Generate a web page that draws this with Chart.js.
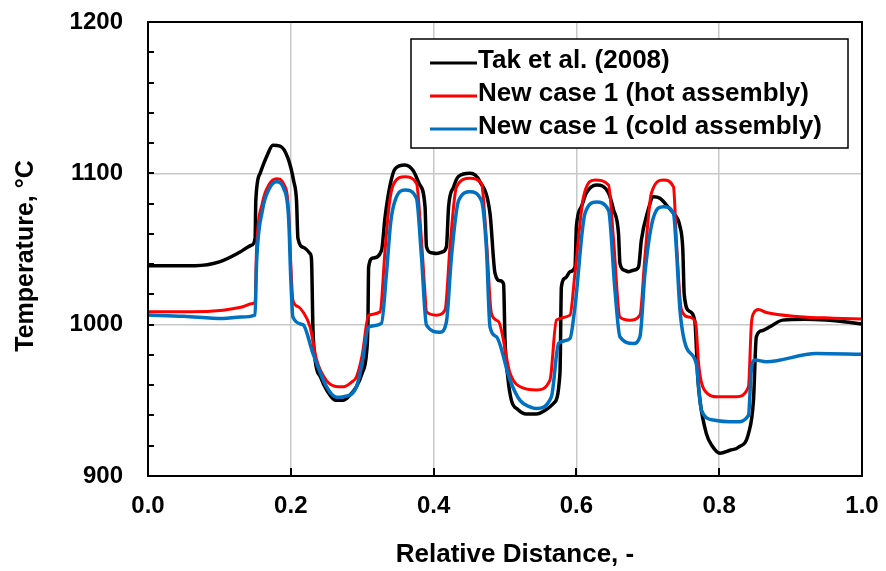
<!DOCTYPE html>
<html>
<head>
<meta charset="utf-8">
<script src="https://cdn.jsdelivr.net/npm/chart.js@4.4.1/dist/chart.umd.min.js"></script>
<style>
  html, body { margin: 0; padding: 0; background: #fff; }
  #chart { display: block; }
</style>
</head>
<body>
<canvas id="chart" width="886" height="571"></canvas>
<script>
// values
const takDist = [0, 0.066, 0.1, 0.129, 0.145, 0.150, 0.151, 0.157, 0.167, 0.175, 0.185, 0.196, 0.204, 0.208, 0.210, 0.218, 0.227, 0.229, 0.231, 0.234, 0.242, 0.250, 0.264, 0.273, 0.282, 0.292, 0.300, 0.306, 0.308, 0.309, 0.315, 0.327, 0.332, 0.339, 0.346, 0.360, 0.371, 0.380, 0.388, 0.390, 0.397, 0.404, 0.412, 0.418, 0.421, 0.428, 0.435, 0.451, 0.465, 0.479, 0.486, 0.493, 0.498, 0.500, 0.504, 0.509, 0.518, 0.530, 0.544, 0.558, 0.568, 0.577, 0.579, 0.585, 0.591, 0.598, 0.600, 0.607, 0.614, 0.628, 0.645, 0.652, 0.659, 0.661, 0.667, 0.673, 0.680, 0.687, 0.691, 0.700, 0.708, 0.717, 0.728, 0.736, 0.745, 0.749, 0.751, 0.758, 0.766, 0.768, 0.770, 0.773, 0.782, 0.790, 0.801, 0.815, 0.827, 0.841, 0.848, 0.852, 0.860, 0.871, 0.889, 0.920, 0.950, 0.975, 1.000];
const takTemp = [1039, 1039, 1041.5, 1048, 1052.5, 1057, 1082, 1100, 1112, 1118.5, 1118, 1110, 1095, 1082, 1057, 1051, 1047, 1043, 998, 977, 965, 957, 950, 950, 953, 959, 968, 981, 1000, 1038, 1044, 1049, 1071, 1092, 1103, 1105.5, 1102, 1093, 1078, 1051.5, 1047.5, 1047, 1048, 1051.5, 1078, 1091, 1098, 1100, 1094.5, 1073.5, 1034, 1029, 1027, 990, 965, 950, 944, 941, 941, 944, 948, 968, 1025, 1031, 1035, 1038, 1064.7, 1078, 1087, 1092.3, 1087, 1076, 1060, 1040.5, 1036, 1035, 1036, 1038, 1056, 1075, 1084.5, 1083.5, 1078, 1073.5, 1065, 1050, 1020, 1009, 1002, 985, 965, 950, 928, 920, 915, 917, 919, 928, 950, 992, 996, 998.6, 1003, 1003.5, 1003, 1002, 1000.4];

const hotDist = [0, 0.06, 0.105, 0.13, 0.147, 0.150, 0.152, 0.160, 0.170, 0.180, 0.190, 0.197, 0.200, 0.203, 0.210, 0.217, 0.227, 0.236, 0.250, 0.266, 0.274, 0.285, 0.292, 0.300, 0.309, 0.325, 0.332, 0.338, 0.344, 0.360, 0.376, 0.383, 0.388, 0.390, 0.404, 0.416, 0.423, 0.432, 0.451, 0.467, 0.474, 0.481, 0.491, 0.507, 0.526, 0.544, 0.563, 0.572, 0.591, 0.598, 0.610, 0.626, 0.645, 0.652, 0.661, 0.675, 0.689, 0.696, 0.705, 0.722, 0.736, 0.740, 0.747, 0.758, 0.767, 0.771, 0.775, 0.785, 0.796, 0.824, 0.841, 0.845, 0.848, 0.855, 0.866, 0.913, 0.960, 1.000];
const hotTemp = [1008.5, 1008.5, 1009.6, 1011.5, 1014, 1015, 1050, 1080, 1093, 1096.5, 1093, 1075, 1040, 1016, 1012, 1008.5, 998.6, 977, 963, 959, 959, 962, 965.6, 980, 1006.3, 1008.5, 1049, 1080, 1093, 1097.7, 1093.4, 1056, 1020, 1008.5, 1006.3, 1009.7, 1051.5, 1091, 1096.7, 1093.4, 1056, 1007.4, 1002, 968, 958, 956.8, 963.4, 1003, 1006.3, 1034, 1084.5, 1095.6, 1092.3, 1056, 1005, 1003, 1006.3, 1045, 1086.8, 1095.6, 1091, 1056, 1010, 1005, 1001, 975, 962, 954, 952.4, 952.4, 959, 1000, 1007.4, 1010, 1008, 1005.3, 1004.3, 1003.7];

const coldDist = [0, 0.05, 0.105, 0.13, 0.150, 0.152, 0.160, 0.170, 0.180, 0.190, 0.197, 0.200, 0.203, 0.217, 0.231, 0.250, 0.264, 0.274, 0.292, 0.300, 0.309, 0.327, 0.334, 0.340, 0.346, 0.360, 0.376, 0.383, 0.390, 0.409, 0.418, 0.425, 0.435, 0.451, 0.467, 0.474, 0.479, 0.488, 0.507, 0.521, 0.535, 0.544, 0.565, 0.575, 0.591, 0.598, 0.612, 0.628, 0.645, 0.654, 0.661, 0.680, 0.689, 0.696, 0.708, 0.722, 0.736, 0.740, 0.745, 0.754, 0.768, 0.772, 0.775, 0.792, 0.824, 0.841, 0.845, 0.850, 0.866, 0.936, 1.000];
const coldTemp = [1006.4, 1005.5, 1004, 1005, 1006.4, 1040, 1075, 1090, 1094.5, 1090, 1070, 1030, 1005, 1000, 981, 959, 952, 952.4, 959, 975, 998.6, 1000.9, 1034, 1068, 1082, 1089, 1083.5, 1045, 999.7, 995, 1002, 1045, 1082, 1087.8, 1082, 1050, 998.6, 992, 963.4, 950, 945.7, 944.6, 952.4, 987.5, 990.9, 1012, 1073.5, 1081, 1075.7, 1022.9, 992, 987.6, 992, 1034, 1071, 1078, 1073.5, 1050, 1010, 985, 974, 955, 943.5, 937, 935.8, 940, 970, 976.6, 975.5, 981, 980.4];

const seriesLabels = ["Tak et al. (2008)", "New case 1 (hot assembly)", "New case 1 (cold assembly)"];
const seriesColors = ["#000000", "#ff0000", "#0070c0"];
const xTicks = [0.2, 0.4, 0.6, 0.8];
const yMinorStep = 20;

const fontFamily = "'Liberation Sans', Arial, sans-serif";

function toPoints(xs, ys) {
  return xs.map((x, i) => ({ x: x, y: ys[i] }));
}

// top/right frame and the small inside tick marks
const frame = {
  id: "frame",
  afterDatasetsDraw(chart) {
    const { ctx, chartArea: a, scales } = chart;
    ctx.save();
    ctx.strokeStyle = "#000";
    ctx.lineWidth = 2;
    ctx.strokeRect(a.left, a.top, a.right - a.left, a.bottom - a.top);
    for (let v = scales.y.min; v <= scales.y.max; v += yMinorStep) {
      const y = Math.round(scales.y.getPixelForValue(v));
      ctx.beginPath();
      ctx.moveTo(a.left, y);
      ctx.lineTo(a.left + 6, y);
      ctx.stroke();
    }
    xTicks.forEach((v) => {
      const x = Math.round(scales.x.getPixelForValue(v));
      ctx.beginPath();
      ctx.moveTo(x, a.bottom);
      ctx.lineTo(x, a.bottom - 8);
      ctx.stroke();
    });
    ctx.restore();
  },
};

// boxed legend inside the plot + axis titles
const boxLegend = {
  id: "boxLegend",
  afterDraw(chart) {
    const { ctx, chartArea: a } = chart;
    const left = a.right - 451;
    const top = a.top + 17;
    const w = 437;
    const h = 109;
    ctx.save();
    ctx.fillStyle = "#fff";
    ctx.fillRect(left, top, w, h);
    ctx.strokeStyle = "#000";
    ctx.lineWidth = 1.5;
    ctx.strokeRect(left, top, w, h);
    ctx.font = "bold 26px " + fontFamily;
    ctx.textBaseline = "middle";
    ctx.textAlign = "left";
    chart.data.datasets.forEach((ds, i) => {
      const y = top + 24 + i * 33;
      ctx.strokeStyle = ds.borderColor;
      ctx.lineWidth = 3;
      ctx.beginPath();
      ctx.moveTo(left + 19, y);
      ctx.lineTo(left + 66, y);
      ctx.stroke();
      ctx.fillStyle = "#000";
      ctx.fillText(ds.label, left + 67, y - 2);
    });

    // axis titles
    ctx.font = "bold 26px " + fontFamily;
    ctx.fillStyle = "#000";
    ctx.textAlign = "center";
    ctx.fillText("Relative Distance, -", (a.left + a.right) / 2 + 10, 555);
    ctx.font = "bold 25px " + fontFamily;
    ctx.translate(26, (a.top + a.bottom) / 2 + 7);
    ctx.rotate(-Math.PI / 2);
    ctx.fillText("Temperature, °C", 0, 0);
    ctx.restore();
  },
};

const ctx = document.getElementById("chart");

const myChart = new Chart(ctx, {
  type: "line",
  data: {
    datasets: [
      {
        label: seriesLabels[0],
        data: toPoints(takDist, takTemp),
        borderColor: seriesColors[0],
        borderWidth: 3.5,
        order: 3,
      },
      {
        label: seriesLabels[1],
        data: toPoints(hotDist, hotTemp),
        borderColor: seriesColors[1],
        borderWidth: 3,
        order: 2,
      },
      {
        label: seriesLabels[2],
        data: toPoints(coldDist, coldTemp),
        borderColor: seriesColors[2],
        borderWidth: 3.5,
        order: 1,
      },
    ],
  },
  options: {
    responsive: false,
    animation: false,
    devicePixelRatio: 1,
    layout: { padding: { top: 22, right: 24, left: 0, bottom: 0 } },
    elements: {
      point: { radius: 0 },
      line: { cubicInterpolationMode: "monotone", fill: false },
    },
    plugins: {
      legend: { display: false },
      tooltip: { enabled: false },
    },
    scales: {
      x: {
        type: "linear",
        min: 0,
        max: 1,
        afterFit: (scale) => { scale.height = 95; },
        ticks: {
          stepSize: 0.2,
          padding: 0,
          color: "#000",
          font: { family: fontFamily, size: 24, weight: "bold" },
          callback: (v) => v.toFixed(1),
        },
        // ticks are drawn inside by the plugin; these only space the labels
        grid: { color: "#c8c8c8", lineWidth: 1.5, drawTicks: true, tickLength: 16, tickColor: "rgba(0,0,0,0)" },
        border: { color: "#000", width: 2 },
      },
      y: {
        min: 900,
        max: 1200,
        afterFit: (scale) => { scale.width = 148; },
        ticks: {
          stepSize: 100,
          padding: 0,
          color: "#000",
          font: { family: fontFamily, size: 24, weight: "bold" },
          callback: (v) => String(v),
        },
        grid: { color: "#c8c8c8", lineWidth: 1.5, drawTicks: true, tickLength: 25, tickColor: "rgba(0,0,0,0)" },
        border: { color: "#000", width: 2 },
      },
    },
  },
  plugins: [frame, boxLegend],
});
</script>
</body>
</html>
